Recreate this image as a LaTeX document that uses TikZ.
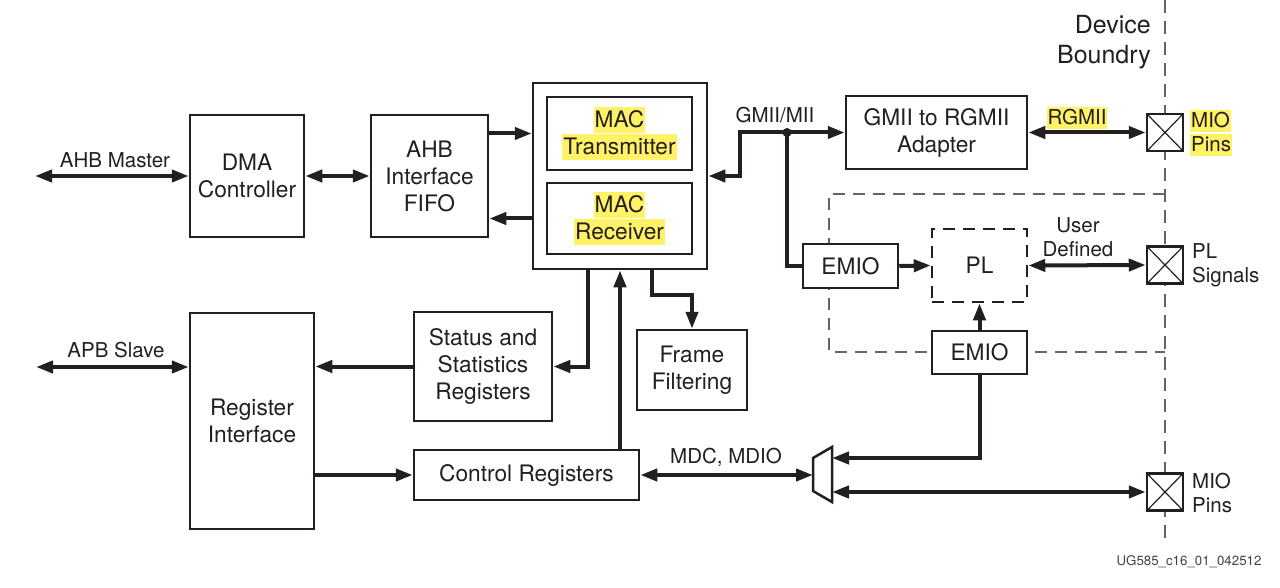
\documentclass[tikz,border=0pt]{standalone}
\usepackage{fontspec}
\setmainfont{TeX Gyre Heros}
\usetikzlibrary{arrows.meta,calc}
\definecolor{ink}{HTML}{231F20}
\definecolor{hl}{HTML}{FFF266}
\definecolor{dgray}{HTML}{646464}
\newcommand{\hlbox}[1]{{\setlength{\fboxsep}{1pt}\colorbox{hl}{\rule[-0.2em]{0pt}{1.02em}#1}}}
\newcommand{\btxt}{\fontsize{22.7}{27}\selectfont}
\newcommand{\ltxt}{\fontsize{20.5}{24}\selectfont}
\begin{document}
\begin{tikzpicture}[x=1pt,y=-1pt,line join=miter,
  box/.style={draw=ink, line width=2.5pt, fill=white, align=center, font=\btxt, text=ink, inner sep=0pt},
  conn/.style={draw=ink, line width=4pt},
  arr/.style={conn, -{Triangle[length=17pt,width=12pt]}},
  dbl/.style={conn, {Triangle[length=17pt,width=12pt]}-{Triangle[length=17pt,width=12pt]}},
  lbl/.style={font=\ltxt, text=ink, align=center, inner sep=0pt},
  pin/.style={draw=ink, line width=2.5pt, fill=white, minimum width=36pt, minimum height=37pt, inner sep=0pt,
    path picture={\draw[ink,line width=1.2pt] (path picture bounding box.north west) -- (path picture bounding box.south east)
      (path picture bounding box.north east) -- (path picture bounding box.south west);}},
  bound/.style={draw=dgray, line width=2pt, dash pattern=on 13pt off 8pt},
  region/.style={draw=dgray, line width=1.5pt, dash pattern=on 12pt off 8pt},
]
\useasboundingbox (0,0) rectangle (1280,588);

% device boundary and PL region (drawn first, boxes cover them)
\coordinate (bt) at (1165,0);
\coordinate (bb) at (1165,541);
\draw[bound] (bt) -- (bb);
\coordinate (r1) at (1165,194);
\coordinate (r2) at (829,194);
\coordinate (r3) at (829,352);
\coordinate (r4) at (1165,352);
\draw[region] (r1) -- (r2) -- (r3) -- (r4);

% boxes
\node[box, minimum width=114pt, minimum height=122pt] (dma) at (247,176) {DMA\\Controller};
\node[box, minimum width=117pt, minimum height=122pt] (ahb) at (429.5,176) {AHB\\Interface\\FIFO};
\node[box, minimum width=174pt, minimum height=186pt] (mac) at (620,176) {};
\node[box, minimum width=145pt, minimum height=73pt] (mactx) at (619.5,133.5) {\hlbox{MAC}\\\hlbox{Transmitter}};
\node[box, minimum width=145pt, minimum height=71pt] (macrx) at (619.5,218.5) {\hlbox{MAC}\\\hlbox{Receiver}};
\node[box, minimum width=181pt, minimum height=73pt] (adapter) at (936.5,132.5) {GMII to RGMII\\Adapter};
\node[box, minimum width=95pt, minimum height=44pt] (emio1) at (850.5,266) {EMIO};
\node[box, minimum width=95pt, minimum height=73pt, dash pattern=on 12pt off 8pt] (pl) at (979.5,265.5) {PL};
\node[box, minimum width=95pt, minimum height=43pt] (emio2) at (979.5,352.5) {EMIO};
\node[box, minimum width=138pt, minimum height=109pt] (status) at (483,366.5) {Status and\\Statistics\\Registers};
\node[box, minimum width=110pt, minimum height=80pt] (frame) at (692,370) {Frame\\Filtering};
\node[box, minimum width=124pt, minimum height=216pt] (regif) at (252,421) {Register\\Interface};
\node[box, minimum width=225pt, minimum height=50pt] (ctrl) at (526.5,475) {Control Registers};
\node[pin] (pin1) at (1165,132.5) {};
\node[pin] (pin2) at (1165,265) {};
\node[pin] (pin3) at (1165,492) {};

% mux
\coordinate (mx1) at (813,458);
\coordinate (mx2) at (832,447);
\coordinate (mx3) at (832,502);
\coordinate (mx4) at (813,491);
\draw[ink, line width=2.5pt, fill=white] (mx1) -- (mx2) -- (mx3) -- (mx4) -- cycle;
\coordinate (muxL) at (813,475);
\coordinate (muxR1) at (832,458);
\coordinate (muxR2) at (832,492);

% connectors
\coordinate (ahbm) at (35,176);
\draw[dbl] (ahbm) -- (dma.west);
\draw[dbl] (dma.east) -- (ahb.west);
\draw[arr] (ahb.east |- mactx) -- (mac.west |- mactx);
\draw[arr] (mac.west |- macrx) -- (ahb.east |- macrx);

\node[circle, fill=ink, minimum size=9pt, inner sep=0pt] (dot) at (787,132.5) {};
\coordinate (gbend) at (740,132.5);
\draw[arr] (dot.center) -- (gbend) |- (mac.east);
\draw[arr] (dot.center) -- (adapter.west);
\draw[conn] (dot.center) |- (emio1.west);
\draw[dbl] (adapter.east) -- (pin1.west);
\draw[arr] (emio1.east) -- (pl.west);
\draw[dbl] (pl.east) -- (pin2.west);
\draw[arr] (emio2.north) -- (pl.south);
\draw[arr] (emio2.south) |- (muxR1);
\draw[dbl] (muxR2) -- (pin3.west);
\draw[dbl] (ctrl.east) -- (muxL);

\draw[arr] ([xshift=-32pt]mac.south) |- (status.east);
\draw[arr] (ctrl.north -| mac.south) -- (mac.south);
\draw[arr] ([xshift=32pt]mac.south) -- ++(0,25) -| (frame.north);
\draw[arr] (status.west) -- (status.west -| regif.east);
\draw[arr] (ctrl.west -| regif.east) -- (ctrl.west);
\coordinate (apbs) at (36,367);
\draw[dbl] (apbs) -- (apbs -| regif.west);

% labels
\node[lbl] (lahb) at (115,160) {AHB Master};
\node[lbl] (lapb) at (116,350) {APB Slave};
\node[lbl] (lgmii) at (775,115) {GMII/MII};
\node[lbl] (lrgmii) at (1077,118) {\hlbox{RGMII}};
\node[lbl] (luser) at (1078,237) {User\\Defined};
\node[lbl] (lmdc) at (726,457) {MDC, MDIO};
\node[lbl, anchor=west, align=left] (lmio1) at (1190,133) {\hlbox{MIO}\\\hlbox{Pins}};
\node[lbl, anchor=west, align=left] (lpl) at (1192,265) {PL\\Signals};
\node[lbl, anchor=west, align=left] (lmio2) at (1192,493) {MIO\\Pins};
\node[lbl, anchor=east, align=right, font=\fontsize{25}{30}\selectfont] (ldev) at (1151,42.5) {Device\\Boundry};
\node[lbl, font=\fontsize{13.3}{16}\selectfont, text=ink!85] (lref) at (1189,562) {UG585\_c16\_01\_042512};
\end{tikzpicture}
\end{document}
